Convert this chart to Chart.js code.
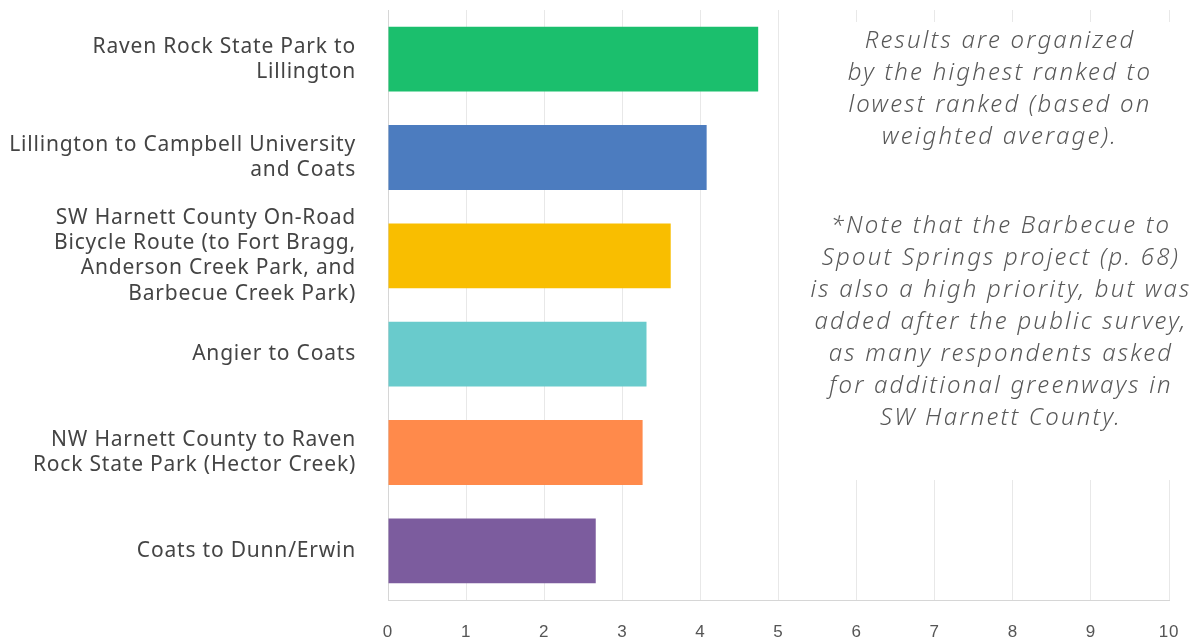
<!DOCTYPE html>
<html>
<head>
<meta charset="utf-8">
<script src="https://cdn.jsdelivr.net/npm/chart.js@4"></script>
<style>
  html, body { margin: 0; padding: 0; background: #fff; }
  #wrap { width: 1196px; height: 641px; }
</style>
</head>
<body>
<div id="wrap"><canvas id="chart-rank"></canvas></div>
<script>
// Datos del gráfico
const categorias = [
    ['Raven Rock State Park to', 'Lillington'],
    ['Lillington to Campbell University', 'and Coats'],
    ['SW Harnett County On-Road', 'Bicycle Route (to Fort Bragg,', 'Anderson Creek Park, and', 'Barbecue Creek Park)'],
    ['Angier to Coats'],
    ['NW Harnett County to Raven', 'Rock State Park (Hector Creek)'],
    ['Coats to Dunn/Erwin']
];
const promedios = [4.74, 4.08, 3.62, 3.31, 3.26, 2.66];
const colores = ['#1bbf6d', '#4c7cbf', '#f9be00', '#69cbcc', '#ff8a4b', '#7c5c9e'];
const ticksX = [0, 1, 2, 3, 4, 5, 6, 7, 8, 9, 10];

const notaArriba = ['Results are organized', 'by the highest ranked to', 'lowest ranked (based on', 'weighted average).'];
const notaAbajo = ['*Note that the Barbecue to', 'Spout Springs project (p. 68)', 'is also a high priority, but was', 'added after the public survey,', 'as many respondents asked', 'for additional greenways in', 'SW Harnett County.'];

// Espaciado de letras (la fuente original es más ancha)
const pluginEspaciado = {
    id: 'espaciado',
    beforeDraw(chart) { chart.ctx.letterSpacing = '0.8px'; }
};

// Plugin para la nota de texto a la derecha
const pluginNota = {
    id: 'nota',
    afterDraw(chart) {
        const ctx = chart.ctx;
        ctx.save();
        ctx.fillStyle = '#ffffff';
        ctx.fillRect(795, 22, 401, 458);
        ctx.fillStyle = '#585858';
        ctx.font = 'italic 300 24px "Noto Sans", sans-serif';
        ctx.letterSpacing = '2.2px';
        ctx.textAlign = 'center';
        ctx.textBaseline = 'middle';
        notaArriba.forEach((linea, i) => ctx.fillText(linea, 1000, 41 + i * 32));
        notaAbajo.forEach((linea, i) => ctx.fillText(linea, 1001, 226 + i * 32));
        ctx.restore();
    }
};

function crearGrafico() {
    const ctx = document.getElementById('chart-rank').getContext('2d');
    new Chart(ctx, {
        type: 'bar',
        data: {
            labels: categorias,
            datasets: [{
                data: promedios,
                backgroundColor: colores,
                borderWidth: 0,
                categoryPercentage: 1,
                barPercentage: 0.66
            }]
        },
        options: {
            indexAxis: 'y',
            responsive: true,
            maintainAspectRatio: false,
            animation: false,
            layout: { padding: { top: 10, right: 27, bottom: 0, left: 0 } },
            plugins: {
                legend: { display: false },
                tooltip: { enabled: false }
            },
            scales: {
                x: {
                    min: 0,
                    max: 10,
                    afterBuildTicks: (scale) => { scale.ticks = ticksX.map(v => ({ value: v })); },
                    afterFit: (scale) => {
                        scale.height = 41;
                        scale.paddingLeft = 0;
                        scale.paddingRight = 0;
                    },
                    grid: { color: '#e8e8e8', drawTicks: false },
                    border: { color: '#d6d6d6' },
                    ticks: {
                        padding: 22,
                        color: '#555',
                        font: { family: '"Liberation Sans Narrow", "Liberation Sans", sans-serif', size: 17 }
                    }
                },
                y: {
                    afterFit: (scale) => {
                        scale.width = 388;
                        scale.paddingTop = 0;
                        scale.paddingBottom = 0;
                    },
                    grid: { display: false, drawTicks: false },
                    border: { color: '#d6d6d6' },
                    ticks: {
                        autoSkip: false,
                        padding: 32,
                        color: '#444',
                        font: { family: '"Noto Sans", sans-serif', size: 21, lineHeight: 1.2 }
                    }
                }
            }
        },
        plugins: [pluginEspaciado, pluginNota]
    });
}

window.onload = crearGrafico;
</script>
</body>
</html>
